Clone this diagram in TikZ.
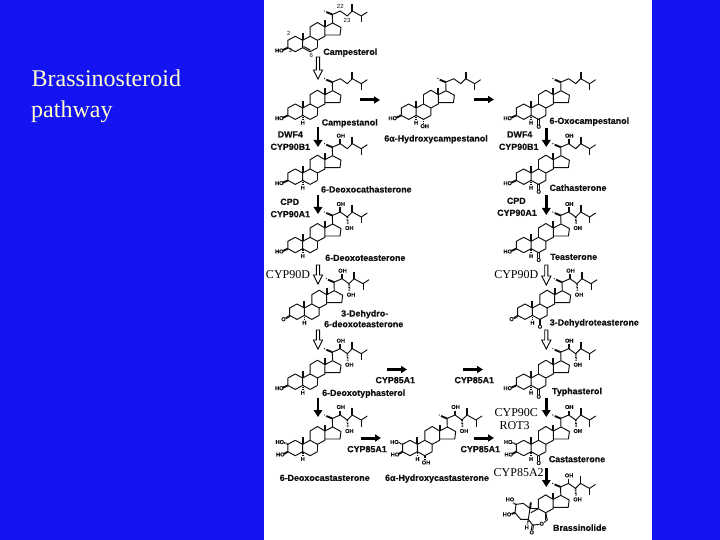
\documentclass[tikz,border=0pt]{standalone}
\usepackage{fontspec}
\setmainfont{Liberation Serif}
\newfontfamily\labfont{Liberation Sans}[BoldFeatures={FakeBold=0.4}]
\usetikzlibrary{arrows.meta,calc}
\definecolor{slideblue}{RGB}{20,20,243}
\definecolor{titlecol}{RGB}{255,255,204}
\definecolor{inkcol}{RGB}{15,15,15}
\newcounter{nn}
\tikzset{
  bondline/.style={draw=inkcol,line width=0.95pt,line join=round},
  wedgeline/.style={draw=inkcol,line width=1.9pt},
  hashline/.style={draw=inkcol,line width=1.6pt,dash pattern=on 0.9pt off 0.7pt},
  tinytext/.style={font=\labfont\bfseries\fontsize{5.6}{6}\selectfont,text=inkcol,inner sep=0pt},
  nametext/.style={font=\labfont\bfseries\fontsize{8.9}{10}\selectfont,text=inkcol,inner sep=0pt,anchor=base},
  cyptext/.style={font=\fontsize{12}{13}\selectfont,text=black,inner sep=0pt,anchor=base},
  titletext/.style={font=\fontsize{24}{28}\selectfont,text=titlecol,inner sep=0pt,anchor=base west},
  solidarrow/.style={draw=black,line width=2.9pt,-{Triangle[length=7pt,width=8.5pt]}},
  flatarrow/.style={draw=black,line width=3pt,-{Triangle[length=6pt,width=7pt]}},
  hollowarrowline/.style={draw=black,line width=0.9pt,fill=white,line join=miter},
}
% tiny atom label
\newcommand{\atm}[3]{\stepcounter{nn}\node[tinytext] (atom\thenn) at (#1,#2) {#3};}
% compound and enzyme names
\newcommand{\nm}[4]{\node[nametext] (#1) at (#2,#3+3.2) {#4};}
\newcommand{\cyp}[4]{\node[cyptext] (#1) at (#2,#3+4) {#4};}
% hollow arrow between two named points on one vertical
\newcommand{\hollowarrow}[2]{\draw[hollowarrowline]
  ($(#1)+(-1.6,0)$) -- ($(#2)+(-1.6,-9)$) -- ($(#2)+(-4.6,-9)$) -- (#2) --
  ($(#2)+(4.6,-9)$) -- ($(#2)+(1.6,-9)$) -- ($(#1)+(1.6,0)$) -- cycle;}
% ring A and B-D skeleton parts
\newcommand{\ringCD}{%
  \draw[bondline] (7.4,-3.7) -- (14.8,-7.7) -- (22.2,-3.7) -- (22.2,3.7);
  \draw[bondline] (14.8,-7.7) -- (14.8,-17) -- (22.2,-21.5) -- (29.6,-17) -- (29.6,-7.7) -- (22.2,-3.7);
  \draw[bondline] (29.6,-17) -- (37.3,-21) -- (45.7,-16.5) -- (44.7,-9) -- (29.6,-9);
  \draw[wedgeline] (29.6,-17) -- (29.6,-23.5);
  \draw[bondline] (37.3,-21) -- (37,-29.5) -- (45,-33) -- (52,-28) -- (57,-33) -- (66,-28) -- (72,-32);
  \draw[bondline] (66,-28) -- (66,-21.5);
  \draw[wedgeline] (57,-33) -- (57,-40);
  \draw[wedgeline] (37,-29.5) -- (31,-32);
  \fill[inkcol] (29.2,-33) circle (0.7);
}
\newcommand{\skel}{%
  \draw[bondline] (-7.4,3.7) -- (-7.4,-3.7) -- (0,-7.7) -- (7.4,-3.7) -- (7.4,3.7) -- (0,7.7) -- cycle;
  \draw[bondline] (7.4,3.7) -- (14.8,7.7) -- (22.2,3.7);
  \draw[wedgeline] (7.4,-3.7) -- (7.4,-11);
  \ringCD
}
\newcommand{\hydroxy}{\draw[wedgeline] (-7.4,3.7) -- (-12.5,6); \atm{-16}{6.5}{HO}}
\newcommand{\keto}{\draw[bondline] (-7.4,3.7) -- (-11.5,6.2); \draw[bondline] (-6.9,4.6) -- (-11,7.1); \atm{-13.5}{7.5}{O}}
\newcommand{\diol}{\draw[wedgeline] (-7.4,3.7) -- (-11.5,6); \atm{-15}{6.5}{HO}
  \draw[hashline] (-7.4,-3.7) -- (-11.5,-5.5); \atm{-15.5}{-6}{HO}}
\newcommand{\hatH}{\draw[hashline] (7.4,3.7) -- (7.4,8); \atm{7.4}{11}{H}}
\newcommand{\sixO}{\draw[bondline] (14.2,7.7) -- (14.2,13); \draw[bondline] (15.6,7.7) -- (15.6,13); \atm{15}{15}{O}}
\newcommand{\sixOH}{\draw[hashline] (14.8,7.7) -- (14.8,11.5); \atm{16}{14.5}{OH}}
\newcommand{\ohUp}{\draw[wedgeline] (45,-33) -- (45,-37.5); \atm{45.5}{-41}{OH}}
\newcommand{\ohDown}{\draw[hashline] (52,-28) -- (52.5,-21); \atm{54}{-17}{OH}}
\begin{document}
\begin{tikzpicture}[x=1pt,y=-1pt]
\useasboundingbox (0,0) rectangle (720,540);
\fill[slideblue] (0,0) rectangle (720,540);
\fill[white] (264,0) rectangle (652,540);
\node[titletext] (title1) at (31.5,87) {Brassinosteroid};
\node[titletext] (title2) at (31,118) {pathway};

% Campesterol
\begin{scope}[shift={(295.3,44)}]
  \draw[bondline] (-7.4,3.7) -- (-7.4,-3.7) -- (0,-7.7) -- (7.4,-3.7) -- (7.4,3.7) -- (0,7.7) -- cycle;
  \draw[bondline] (7.4,3.7) -- (14.8,7.7) -- (22.2,3.7);
  \draw[bondline] (8.2,2.4) -- (15.2,6.2);
  \draw[wedgeline] (7.4,-3.7) -- (7.4,-11);
  \ringCD \hydroxy
\end{scope}
\atm{288.7}{33.3}{\fontsize{6}{7}\selectfont\mdseries 2}
\atm{290.3}{50.7}{\fontsize{6}{7}\selectfont\mdseries 3}
\atm{311.3}{55}{\fontsize{6}{7}\selectfont\mdseries 6}
\atm{340.3}{6.7}{\fontsize{6}{7}\selectfont\mdseries 22}
\atm{347}{20}{\fontsize{6}{7}\selectfont\mdseries 23}
% First row
\begin{scope}[shift={(295.3,111.7)}] \skel \hydroxy \hatH \end{scope}
\begin{scope}[shift={(408.7,111.7)}] \skel \hydroxy \hatH \sixOH \end{scope}
\begin{scope}[shift={(523.7,111.7)}] \skel \hydroxy \hatH \sixO \end{scope}
% Cathasterone row
\begin{scope}[shift={(295.3,176.7)}] \skel \hydroxy \hatH \ohUp \end{scope}
\begin{scope}[shift={(523.7,176.7)}] \skel \hydroxy \hatH \sixO \ohUp \end{scope}
% Teasterone row
\begin{scope}[shift={(295.3,245)}] \skel \hydroxy \hatH \ohUp \ohDown \end{scope}
\begin{scope}[shift={(523.7,245)}] \skel \hydroxy \hatH \sixO \ohUp \ohDown \end{scope}
% 3-Dehydro row
\begin{scope}[shift={(297,311.7)}] \skel \keto \hatH \ohUp \ohDown \end{scope}
\begin{scope}[shift={(525,311.7)}] \skel \keto \hatH \sixO \ohUp \ohDown \end{scope}
% Typhasterol row
\begin{scope}[shift={(295.3,381.7)}] \skel \hydroxy \hatH \ohUp \ohDown \end{scope}
\begin{scope}[shift={(523.7,381.7)}] \skel \hydroxy \hatH \sixO \ohUp \ohDown \end{scope}
% Castasterone row
\begin{scope}[shift={(295.3,448)}] \skel \diol \hatH \ohUp \ohDown \end{scope}
\begin{scope}[shift={(410,448)}] \skel \diol \hatH \sixOH \ohUp \ohDown \end{scope}
\begin{scope}[shift={(523.7,448)}] \skel \diol \hatH \sixO \ohUp \ohDown \end{scope}
% Brassinolide
\begin{scope}[shift={(523.5,516.4)}]
  \ringCD \ohUp \ohDown
  \draw[bondline] (-7.5,-12) -- (-0.2,-13) -- (6.5,-8) -- (4.8,3) -- (-2.8,3) -- (-8.5,-3.7) -- cycle;
  \draw[bondline] (6.5,-8) -- (14.8,-7.7);
  \draw[bondline] (22.2,-3.7) -- (23.8,3.6) -- (20.5,6);
  \draw[bondline] (16,8) -- (9.2,8.6) -- (4.8,3);
  \draw[wedgeline] (6.5,-8) -- (7.4,-14);
  \atm{18.2}{7.3}{O}
  \draw[bondline] (8.6,8.6) -- (7.8,14); \draw[bondline] (10,8.8) -- (9.2,14);
  \atm{8.2}{16}{O}
  \draw[hashline] (4.8,3) -- (3.8,8); \atm{3.2}{11}{H}
  \draw[wedgeline] (-8.5,-3.7) -- (-12,-2.4); \atm{-16.5}{-2}{HO}
  \draw[hashline] (-7.5,-12) -- (-10.5,-13.5); \atm{-13.5}{-17}{HO}
\end{scope}

% Compound names
\nm{campesterol}{350.3}{51.7}{Campesterol}
\nm{campestanol}{349.7}{122.3}{Campestanol}
\nm{hydroxycampestanol}{436}{138.3}{6α-Hydroxycampestanol}
\nm{oxocampestanol}{589.3}{120.7}{6-Oxocampestanol}
\nm{deoxocathasterone}{366.3}{189.3}{6-Deoxocathasterone}
\nm{cathasterone}{578}{187.7}{Cathasterone}
\nm{deoxoteasterone}{365.3}{257.7}{6-Deoxoteasterone}
\nm{teasterone}{573.7}{256.7}{Teasterone}
\nm{dehydroa}{364.7}{313.3}{3-Dehydro-}
\nm{dehydrob}{363.7}{324}{6-deoxoteasterone}
\nm{dehydroteasterone}{594.3}{322.3}{3-Dehydroteasterone}
\nm{deoxotyphasterol}{363.7}{392.7}{6-Deoxotyphasterol}
\nm{typhasterol}{577}{391}{Typhasterol}
\nm{deoxocastasterone}{324.7}{477.7}{6-Deoxocastasterone}
\nm{hydroxycastasterone}{437}{477.7}{6α-Hydroxycastasterone}
\nm{castasterone}{577}{459}{Castasterone}
\nm{brassinolide}{579.7}{527.7}{Brassinolide}
% Enzyme names printed with the figure
\nm{dwfl}{290.3}{134.3}{DWF4}
\nm{cypbl}{290.3}{146.7}{CYP90B1}
\nm{dwfr}{519.7}{134.3}{DWF4}
\nm{cypbr}{518.7}{146.7}{CYP90B1}
\nm{cpdl}{289.7}{201.7}{CPD}
\nm{cypal}{290.3}{214}{CYP90A1}
\nm{cpdr}{516.3}{200.7}{CPD}
\nm{cypar}{517}{212.7}{CYP90A1}
\nm{cypca}{395.3}{380}{CYP85A1}
\nm{cypcb}{474.3}{380}{CYP85A1}
\nm{cypcc}{367}{449}{CYP85A1}
\nm{cypcd}{480.3}{449}{CYP85A1}
% Enzyme names added on the slide
\cyp{cypdl}{288}{274.3}{CYP90D}
\cyp{cypdr}{516.3}{274.3}{CYP90D}
\cyp{cyp90c}{516.3}{412.3}{CYP90C}
\cyp{rot3}{514.7}{425}{ROT3}
\cyp{cyp85a2}{518.7}{472.7}{CYP85A2}

% Arrow ends
\coordinate (h1s) at (318,57);   \coordinate (h1e) at (318,79);
\coordinate (s1s) at (318,127);  \coordinate (s1e) at (318,147);
\coordinate (s2s) at (546.3,128);\coordinate (s2e) at (546.3,147);
\coordinate (s3s) at (318,195);  \coordinate (s3e) at (318,214);
\coordinate (s4s) at (546.3,195);\coordinate (s4e) at (546.3,215);
\coordinate (h2s) at (318,265);  \coordinate (h2e) at (318,284);
\coordinate (h3s) at (546.3,265);\coordinate (h3e) at (546.3,285);
\coordinate (h4s) at (318,330);  \coordinate (h4e) at (318,349);
\coordinate (h5s) at (546.3,330);\coordinate (h5e) at (546.3,349);
\coordinate (s5s) at (318,398);  \coordinate (s5e) at (318,417);
\coordinate (s6s) at (546.3,398);\coordinate (s6e) at (546.3,417);
\coordinate (s7s) at (546.3,468);\coordinate (s7e) at (546.3,487);
\coordinate (f1s) at (360,100);  \coordinate (f1e) at (380,100);
\coordinate (f2s) at (474,99.5); \coordinate (f2e) at (494,99.5);
\coordinate (f3s) at (387,369.5);\coordinate (f3e) at (407,369.5);
\coordinate (f4s) at (463,369.5);\coordinate (f4e) at (483,369.5);
\coordinate (f5s) at (361,438);  \coordinate (f5e) at (381,438);
\coordinate (f6s) at (474,438);  \coordinate (f6e) at (494,438);
% Arrows
\foreach \a in {s1,s2,s3,s4,s5,s6,s7} {\draw[solidarrow] (\a s) -- (\a e);}
\foreach \a in {f1,f2,f3,f4,f5,f6} {\draw[flatarrow] (\a s) -- (\a e);}
\foreach \a in {h1,h2,h3,h4,h5} {\hollowarrow{\a s}{\a e}}
\end{tikzpicture}
\end{document}
